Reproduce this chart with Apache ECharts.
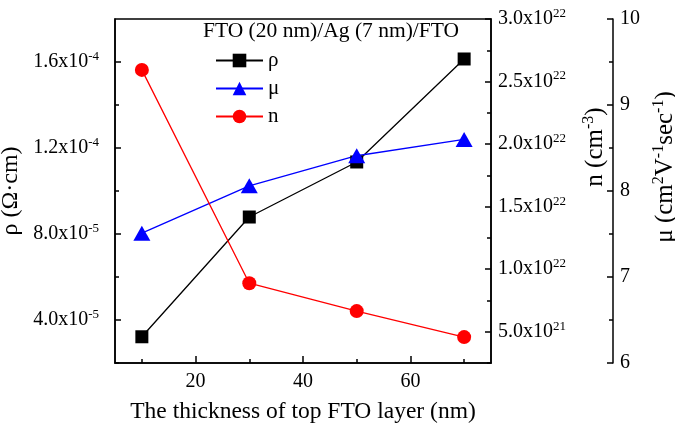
<!DOCTYPE html>
<html>
<head>
<meta charset="utf-8">
<script src="https://cdn.jsdelivr.net/npm/echarts@6/dist/echarts.min.js"></script>
<style>html,body{margin:0;padding:0;background:#fff;}#c{width:675px;height:432px;}</style>
</head>
<body>
<div id="c"></div>
<script>
// ---- data ----
var thickness = [10, 30, 50, 70];
var rhoValues = [3.22e-5, 8.79e-5, 1.135e-4, 1.614e-4];
var muValues = [7.51, 8.06, 8.41, 8.60];
var nValues = [2.593e22, 8.88e21, 6.65e21, 4.57e21];

var xMajorTicks = [20, 40, 60];
var xMinorTicks = [10, 30, 50, 70];
var rhoMajorTicks = [4e-5, 8e-5, 1.2e-4, 1.6e-4];
var rhoMinorTicks = [2e-5, 6e-5, 1.0e-4, 1.4e-4];
var nMajorTicks = [5e21, 1e22, 1.5e22, 2e22, 2.5e22, 3e22];
var nMinorTicks = [2.5e21, 7.5e21, 1.25e22, 1.75e22, 2.25e22, 2.75e22];
var muMajorTicks = [6, 7, 8, 9, 10];
var muMinorTicks = [6.5, 7.5, 8.5, 9.5];

var legendTitle = 'FTO (20 nm)/Ag (7 nm)/FTO';
var xTitle = 'The thickness of top FTO layer (nm)';

// ---- styles ----
var FONT = '"Liberation Serif", "DejaVu Serif", serif';
var supRich = {
  b: {fontFamily: FONT, fontSize: 20, color: '#000'},
  s: {fontFamily: FONT, fontSize: 13, color: '#000', padding: [0, 0, 11, 0]}
};
function sci(v) {
  var e = Math.floor(Math.log10(v) + 1e-9);
  var m = v / Math.pow(10, e);
  return '{b|' + m.toFixed(1) + 'x10}{s|' + e + '}';
}
var lineStyleAxis = {color: '#000', width: 1.5};

function minorAxis(base, ticks) {
  return Object.assign({}, base, {
    name: '',
    axisLine: {show: false},
    axisLabel: {show: false},
    axisTick: {show: true, inside: true, length: 4, lineStyle: {color: '#000', width: 1.5}, customValues: ticks},
    splitLine: {show: false}
  });
}

var xBase = {type: 'value', min: 5, max: 75, position: 'bottom'};
var rhoBase = {type: 'value', min: 2e-5, max: 1.8e-4, position: 'left'};
var nBase = {type: 'value', min: 2.5e21, max: 3.0e22, position: 'right', offset: 0};
var muBase = {type: 'value', min: 6, max: 10, position: 'right', offset: 122};

var titleSup = {
  b: {fontFamily: FONT, fontSize: 25, color: '#000'},
  s: {fontFamily: FONT, fontSize: 16, color: '#000', padding: [0, 0, 13, 0]}
};

var chart = echarts.init(document.getElementById('c'), null, {renderer: 'canvas'});
chart.setOption({
  animation: false,
  backgroundColor: '#fff',
  title: {
    text: legendTitle, left: 203, top: 20, padding: 0,
    textStyle: {fontFamily: FONT, fontSize: 21.5, fontWeight: 'normal', color: '#000'}
  },
  legend: {
    orient: 'vertical', left: 210, top: 45,
    itemWidth: 47, itemHeight: 17, itemGap: 7,
    data: ['ρ', 'μ', 'n'],
    textStyle: {fontFamily: FONT, fontSize: 21, color: '#000'}
  },
  grid: {left: 115, right: 184, top: 19, bottom: 69, outerBoundsMode: 'none', containLabel: false,
    show: true, borderColor: '#000', borderWidth: 1.5, backgroundColor: 'transparent'},
  xAxis: [
    Object.assign({}, xBase, {
      name: xTitle, nameLocation: 'middle', nameGap: 37,
      nameTextStyle: {fontFamily: FONT, fontSize: 23.5, color: '#000'},
      axisLine: {show: true, lineStyle: lineStyleAxis},
      axisTick: {show: true, inside: true, length: 7, lineStyle: {color: '#000', width: 1.5}, customValues: xMajorTicks},
      axisLabel: {show: true, margin: 9, fontFamily: FONT, fontSize: 20, color: '#000', customValues: xMajorTicks},
      splitLine: {show: false}
    }),
    minorAxis(xBase, xMinorTicks)
  ],
  yAxis: [
    Object.assign({}, rhoBase, {
      name: '{b|ρ (Ω·cm)}', nameLocation: 'middle', nameGap: 85, nameRotate: 90,
      nameTextStyle: {rich: {b: {fontFamily: FONT, fontSize: 24, color: '#000'}}},
      axisLine: {show: true, lineStyle: lineStyleAxis},
      axisTick: {show: true, inside: true, length: 6, lineStyle: {color: '#000', width: 1.5}, customValues: rhoMajorTicks},
      axisLabel: {show: true, margin: 16, formatter: sci, rich: supRich, customValues: rhoMajorTicks},
      splitLine: {show: false}
    }),
    minorAxis(rhoBase, rhoMinorTicks),
    Object.assign({}, nBase, {
      name: '{b|n (cm}{s|-3}{b|)}', nameLocation: 'middle', nameGap: 90, nameRotate: 90,
      nameTextStyle: {padding: [0, 0, 0, 88], rich: titleSup},
      axisLine: {show: true, lineStyle: lineStyleAxis},
      axisTick: {show: true, inside: true, length: 6, lineStyle: {color: '#000', width: 1.5}, customValues: nMajorTicks},
      axisLabel: {show: true, margin: 7, formatter: sci, rich: supRich, customValues: nMajorTicks},
      splitLine: {show: false}
    }),
    minorAxis(nBase, nMinorTicks),
    Object.assign({}, muBase, {
      name: '{b|μ (cm}{s|2}{b|V}{s|-1}{b|sec}{s|-1}{b|)}', nameLocation: 'middle', nameGap: 35, nameRotate: 90,
      nameTextStyle: {padding: [0, 0, 0, 48], rich: titleSup},
      axisLine: {show: true, lineStyle: lineStyleAxis},
      axisTick: {show: true, inside: true, length: 6, lineStyle: {color: '#000', width: 1.5}, customValues: muMajorTicks},
      axisLabel: {show: true, margin: 7, fontFamily: FONT, fontSize: 20, color: '#000', customValues: muMajorTicks},
      splitLine: {show: false}
    }),
    minorAxis(muBase, muMinorTicks)
  ],
  series: [
    {
      name: 'ρ', type: 'line', xAxisIndex: 0, yAxisIndex: 0,
      data: thickness.map(function (x, i) { return [x, rhoValues[i]]; }),
      symbol: 'rect', symbolSize: 13,
      lineStyle: {color: '#000', width: 1.3}, itemStyle: {color: '#000'}
    },
    {
      name: 'μ', type: 'line', xAxisIndex: 0, yAxisIndex: 4,
      data: thickness.map(function (x, i) { return [x, muValues[i]]; }),
      symbol: 'triangle', symbolSize: [17, 15],
      lineStyle: {color: '#0000FF', width: 1.3}, itemStyle: {color: '#0000FF'}
    },
    {
      name: 'n', type: 'line', xAxisIndex: 0, yAxisIndex: 2,
      data: thickness.map(function (x, i) { return [x, nValues[i]]; }),
      symbol: 'circle', symbolSize: 14,
      lineStyle: {color: '#FF0000', width: 1.3}, itemStyle: {color: '#FF0000'}
    }
  ]
});
</script>
</body>
</html>
